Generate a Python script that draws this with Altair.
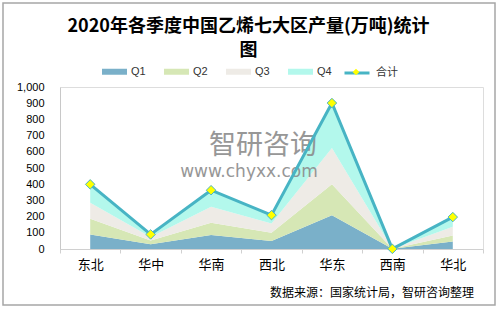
import altair as alt
import pandas as pd

regions = ["东北", "华中", "华南", "西北", "华东", "西南", "华北"]
q1 = [90, 30, 86, 50, 209, 1, 47]
q2 = [97, 22, 76, 50, 190, 0, 37]
q3 = [98, 22, 99, 58, 225, 0, 53]
q4 = [114, 16, 102, 51, 277, 0, 60]
totals = [399, 90, 363, 209, 901, 1, 197]
quarters = ["Q1", "Q2", "Q3", "Q4"]
colors = ["#7AB0C9", "#D6E7B5", "#EEEBE6", "#B3F8EC"]
y_ticks = list(range(0, 1001, 100))
title_lines = ["2020年各季度中国乙烯七大区产量(万吨)统计", "图"]
source_text = "数据来源：国家统计局，智研咨询整理"

rows = []
for qn, vals in zip(quarters, [q1, q2, q3, q4]):
    for r, v in zip(regions, vals):
        rows.append({"region": r, "q": qn, "v": v})
area_df = pd.DataFrame(rows)
tot_df = pd.DataFrame({"region": regions, "total": totals,
                       "s": ["合计"] * len(regions), "p": ["合计点"] * len(regions)})
one = pd.DataFrame({"a": [0]})

CJK = "Noto Sans CJK SC"
LINE = "#47B4C4"

xenc = alt.X("region:N", sort=regions, bandPosition=0.5,
             scale=alt.Scale(type="band", paddingInner=0, paddingOuter=0),
             axis=alt.Axis(title=None, tickBand="extent", labelAngle=0,
                           labelFont=CJK, labelFontSize=13, labelColor="#000000",
                           labelPadding=5, domainColor="#D0D0D0", tickColor="#D0D0D0",
                           tickSize=4, grid=False))
yscale = alt.Scale(domain=[0, 1000], nice=False)
yaxis = alt.Axis(title=None, values=y_ticks, format=",.0f", labelFont="Liberation Sans",
                 labelFontSize=11, labelColor="#000000", ticks=False, labelPadding=16,
                 domainColor="#C8C8C8", grid=False)

border = alt.Chart(one).mark_rect(fill="transparent", stroke="#A6A6A6", strokeWidth=1.5).encode(
    x=alt.value(-57), x2=alt.value(435), y=alt.value(-84), y2=alt.value(218))

areas = alt.Chart(area_df).mark_area().encode(
    x=xenc,
    y=alt.Y("v:Q", stack="zero", scale=yscale, axis=yaxis),
    color=alt.Color("q:N", scale=alt.Scale(domain=quarters, range=colors),
                    legend=alt.Legend(orient="none", legendX=42, legendY=-28,
                                      direction="horizontal", title=None,
                                      symbolType="M-1,-0.24H1V0.24H-1Z", symbolSize=625,
                                      symbolStrokeWidth=0, symbolOpacity=1,
                                      labelFont="Liberation Sans", labelFontSize=11,
                                      labelColor="#333333", labelOffset=4, columnPadding=18)),
    order=alt.Order("q:N"),
)

line = alt.Chart(tot_df).mark_line(strokeWidth=3).encode(
    x=xenc,
    y=alt.Y("total:Q", scale=yscale, axis=yaxis),
    stroke=alt.Stroke("s:N", scale=alt.Scale(range=[LINE]),
                      legend=alt.Legend(orient="none", legendX=283, legendY=-28,
                                        title=None, symbolType="stroke", symbolSize=625,
                                        symbolStrokeWidth=3, labelFont=CJK,
                                        labelFontSize=11, labelColor="#333333",
                                        labelOffset=5)),
)

points = alt.Chart(tot_df).mark_point(filled=True, fill="#FFFF00", stroke=LINE,
                                      strokeWidth=1, size=90, opacity=1).encode(
    x=xenc,
    y=alt.Y("total:Q", scale=yscale, axis=yaxis),
    shape=alt.Shape("p:N", scale=alt.Scale(range=["diamond"]),
                    legend=alt.Legend(orient="none", legendX=292, legendY=-19,
                                      title=None, symbolSize=45, symbolFillColor="#FFFF00",
                                      symbolStrokeColor=LINE, symbolStrokeWidth=1,
                                      labelExpr="''", labelFontSize=1)),
)

wm1 = alt.Chart(one).mark_text(text="智研咨询", font=CJK, fontSize=27, color="#8C8C8C",
                               opacity=0.9).encode(x=alt.value(203), y=alt.value(59))
wm2 = alt.Chart(one).mark_text(text="www.chyxx.com", font="DejaVu Sans", fontSize=17,
                               color="#8C8C8C", opacity=0.9).encode(x=alt.value(189), y=alt.value(85))
src = alt.Chart(one).mark_text(text=source_text, font=CJK, fontSize=12,
                               color="#000000").encode(x=alt.value(312), y=alt.value(206))

chart = alt.layer(border, areas, wm1, wm2, line, points, src).resolve_scale(
    color="independent"
).properties(
    width=423, height=162,
    padding={"left": 60, "top": 87, "right": 16, "bottom": 61},
    autosize=alt.AutoSizeParams(type="none"),
    title=alt.Title(text=title_lines, font=CJK, fontSize=18, fontWeight="bold",
                    color="#000000", anchor="middle", dx=-23, offset=2, dy=60,
                    lineHeight=24, frame="group"),
).configure_view(strokeWidth=0).configure(background="white")

chart.save("out.html", embed_options={"renderer": "svg", "actions": False})
